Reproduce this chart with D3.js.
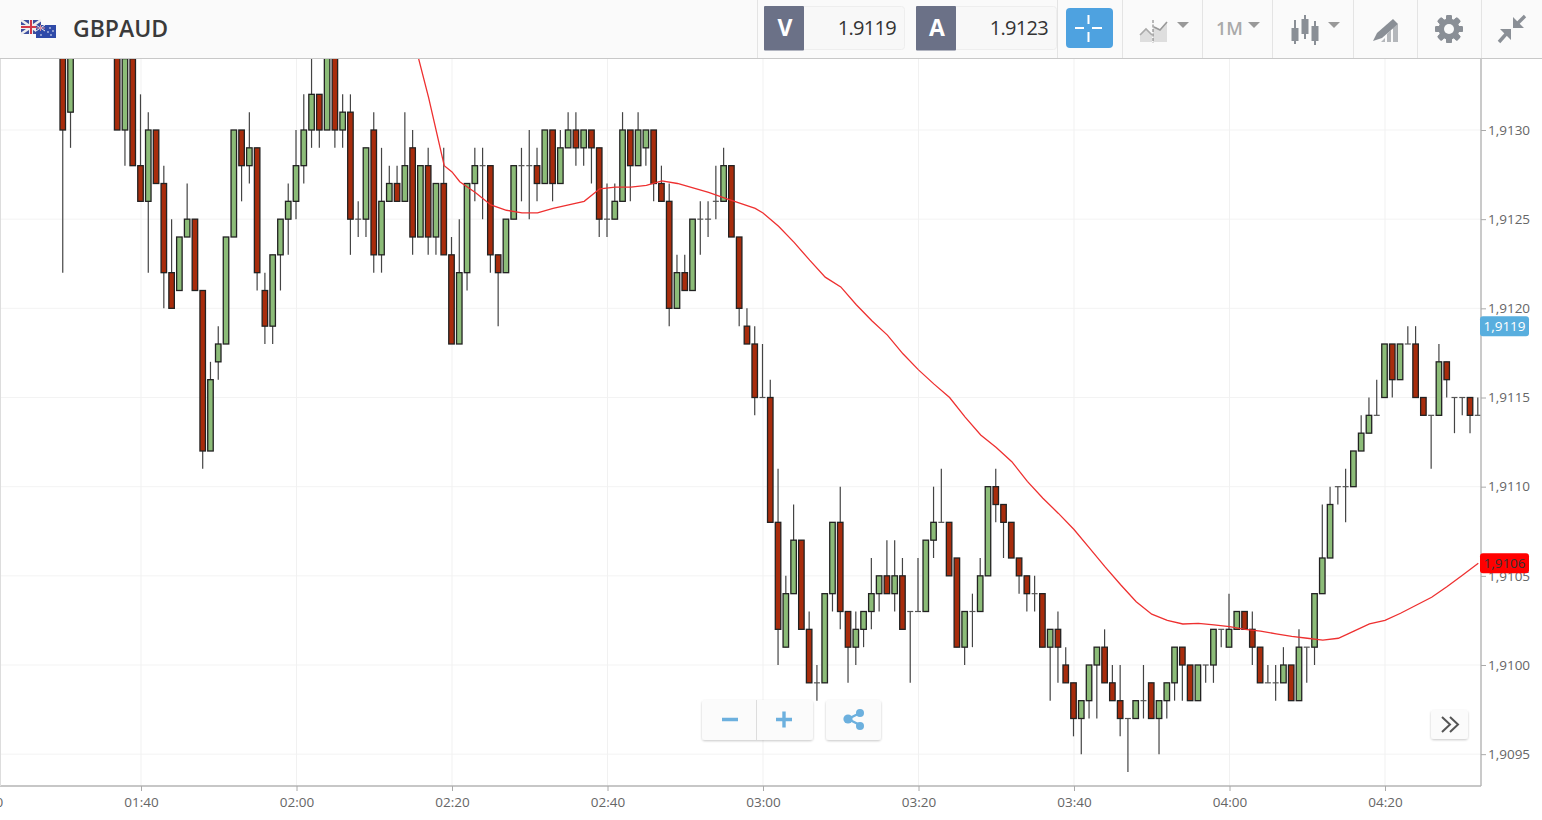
<!DOCTYPE html>
<html>
<head>
<meta charset="utf-8">
<title>GBPAUD</title>
<script src="https://cdn.jsdelivr.net/npm/d3@7"></script>
<style>
html, body { margin: 0; padding: 0; background: #fff; overflow: hidden; }
svg { display: block; font-family: "Open Sans", sans-serif; }
</style>
</head>
<body>
<div id="chart"></div>
<script>
// prices are in pips above 1.9100, one candle per minute starting at 01:30
const startHour = 1;
const startMinute = 30;

const opens = [
  36, 31, null, null, null, null, null, 35, 30, 34,
  28, 26, 30, 27, 22, 21, 24, 25, 21, 12,
  17, 18, 24, 30, 28, 29, 21, 19, 23, 25,
  26, 28, 30, 32, 30, 36, 30, 31, 25, 25,
  30, 23, 26, 27, 26, 29, 24, 28, 24, 27,
  23, 18, 22, 27, 28, 28, 23, 22, 25, 28,
  28, 28, 27, 30, 27, 29, 30, 29, 30, 29,
  25, 25, 26, 30, 28, 29, 30, 27, 26, 20,
  22, 21, 25, 25, 26, 26, 28, 24, 19, 18,
  15, 15, 8, 1, 4, 7, 2, -1, -1, 4,
  8, 3, 1, 2, 3, 4, 5, 4, 5, 3,
  3, 3, 7, 8, 8, 6, 1, 3, 3, 5,
  10, 9, 8, 6, 5, 4, 4, 1, 2, 0,
  -1, -3, -2, 0, 1, -1, -2, -3, -3, -2,
  -1, -3, -2, -1, 1, 0, -2, 0, 0, 2,
  1, 2, 3, 2, 1, -1, -1, -1, 0, -2,
  1, 1, 4, 6, 10, 10, 10, 12, 13, 14,
  15, 18, 16, 18, 18, 15, 14, 14, 17, 15,
  15, 15, 14
];
const highs = [
  37, 37, null, null, null, null, null, 36, 35, 35,
  32, 31, 30, 28, 25, 24, 27, 25, 21, 17,
  19, 24, 30, 30, 31, 29, 22, 23, 25, 27,
  30, 32, 35, 32, 36, 36, 32, 32, 26, 29,
  31, 29, 28, 28, 31, 30, 28, 29, 27, 29,
  24, 25, 27, 29, 29, 28, 23, 25, 28, 29,
  30, 29, 30, 30, 30, 31, 31, 30, 30, 29,
  27, 27, 31, 30, 31, 30, 30, 28, 27, 23,
  23, 25, 26, 26, 28, 29, 28, 24, 20, 19,
  18, 16, 11, 5, 9, 7, 3, 0, 4, 8,
  10, 3, 3, 3, 6, 5, 7, 7, 6, 3,
  6, 7, 10, 11, 8, 6, 3, 4, 6, 10,
  11, 9, 8, 6, 5, 5, 4, 2, 3, 1,
  -1, -2, 0, 1, 2, 0, 0, -3, -2, 0,
  -1, -2, -1, 1, 1, 0, 0, 0, 2, 2,
  4, 3, 3, 3, 1, 0, 0, 1, 0, 2,
  1, 4, 9, 10, 10, 11, 12, 14, 15, 16,
  18, 18, 18, 19, 19, 15, 14, 18, 17, 15,
  15, 15, 15
];
const lows = [
  22, 29, null, null, null, null, null, 30, 28, 28,
  26, 22, 27, 20, 20, 21, 24, 21, 11, 12,
  16, 18, 24, 26, 27, 21, 18, 18, 21, 23,
  25, 27, 29, 29, 30, 29, 29, 23, 24, 24,
  22, 22, 26, 26, 26, 23, 24, 23, 23, 23,
  18, 18, 21, 26, 25, 22, 19, 22, 25, 26,
  25, 26, 27, 26, 27, 29, 28, 28, 27, 24,
  24, 25, 26, 26, 28, 28, 26, 26, 19, 20,
  21, 21, 23, 24, 25, 26, 24, 19, 18, 14,
  15, 8, 0, 1, 4, 2, -1, -2, -1, 3,
  2, -1, 0, 1, 2, 3, 4, 3, 2, -1,
  3, 3, 6, 8, 5, 1, 0, 1, 3, 5,
  8, 6, 6, 4, 3, 3, 1, -2, -1, -1,
  -4, -5, -3, -3, -1, -2, -4, -6, -3, -3,
  -3, -5, -3, -2, -2, -2, -2, -1, -1, 1,
  1, 2, 2, 0, -1, -1, -2, -1, -2, -2,
  -1, 0, 4, 6, 9, 8, 10, 12, 13, 14,
  15, 15, 16, 18, 15, 14, 11, 14, 15, 13,
  14, 13, 14
];
const closes = [
  30, 36, null, null, null, null, null, 30, 34, 28,
  26, 30, 27, 22, 20, 24, 25, 21, 12, 16,
  18, 24, 30, 28, 29, 22, 19, 23, 25, 26,
  28, 30, 32, 30, 35, 30, 31, 25, 25, 29,
  23, 26, 27, 26, 28, 24, 28, 24, 27, 23,
  18, 22, 27, 28, 28, 23, 22, 25, 28, 28,
  28, 27, 30, 27, 29, 30, 29, 30, 29, 25,
  25, 26, 30, 28, 30, 30, 27, 26, 20, 22,
  21, 25, 25, 25, 26, 28, 24, 20, 18, 15,
  15, 8, 2, 4, 7, 2, -1, -1, 4, 8,
  3, 1, 2, 3, 4, 5, 4, 5, 2, 3,
  3, 7, 8, 8, 5, 1, 3, 3, 5, 10,
  9, 8, 6, 5, 4, 4, 1, 2, 1, -1,
  -3, -2, 0, 1, -1, -2, -3, -3, -2, -2,
  -3, -2, -1, 1, 0, -2, 0, 0, 2, 2,
  2, 3, 2, 1, -1, -1, -1, 0, -2, 1,
  1, 4, 6, 9, 10, 10, 12, 13, 14, 14,
  18, 16, 18, 18, 15, 14, 14, 17, 16, 15,
  15, 14, 14
];

// moving average: minute index and value in pips
const maMinutes = [
  45, 47, 49, 50, 51, 53, 55, 57, 59, 61, 63, 65, 67, 69, 71, 73, 75, 77, 79, 81,
  83, 85, 87, 89, 90, 92, 94, 96, 98, 100, 102, 104, 106, 108, 110, 112, 114, 116, 118, 120,
  122, 124, 126, 128, 130, 132, 134, 136, 138, 140, 142, 144, 146, 148, 150, 152, 154, 156, 158, 160,
  162, 164, 166, 168, 170, 172, 174, 176, 178, 180, 182
];
const maValues = [
  35.2, 31.8, 28, 27.65, 27.1, 26.5, 25.8, 25.5, 25.35, 25.35, 25.6, 25.8, 26, 26.7, 26.8, 26.8, 26.9, 27.15, 27, 26.75,
  26.5, 26.2, 25.9, 25.6, 25.35, 24.6, 23.7, 22.7, 21.75, 21.2, 20.2, 19.3, 18.5, 17.45, 16.55, 15.75, 15, 13.9, 12.9, 12.2,
  11.4, 10.3, 9.35, 8.5, 7.6, 6.55, 5.5, 4.5, 3.55, 2.85, 2.5, 2.3, 2.33, 2.25, 2.15, 2, 1.9, 1.75, 1.6, 1.5,
  1.4, 1.5, 1.9, 2.3, 2.5, 2.9, 3.35, 3.8, 4.4, 5.05, 5.7
];

const priceTicks = [-5, 0, 5, 10, 15, 20, 25, 30];
const priceLabels = ['1,9095', '1,9100', '1,9105', '1,9110', '1,9115', '1,9120', '1,9125', '1,9130'];
const timeTicks = ['01:20', '01:40', '02:00', '02:20', '02:40', '03:00', '03:20', '03:40', '04:00', '04:20'];

const symbol = 'GBPAUD';
const bidPrice = '1.9119';
const askPrice = '1.9123';
const lastTag = { pips: 19, label: '1,9119' };
const maTag = { pips: 5.7, label: '1,9106' };

const toDate = s => new Date(2020, 0, 1, +s.slice(0, 2), +s.slice(3));
const minuteDate = i => new Date(2020, 0, 1, startHour, startMinute + i);

const candles = opens.map((o, i) => ({ date: minuteDate(i), open: o, high: highs[i], low: lows[i], close: closes[i] }))
  .filter(d => d.open !== null);
const maLine = maMinutes.map((m, i) => ({ date: minuteDate(m), value: maValues[i] }));

const width = 1542, height = 820;
const plotRight = 1481, plotTop = 59, plotBottom = 786;

const x = d3.scaleTime().domain([toDate('01:40'), toDate('04:20')]).range([141, 1385]);
const y = d3.scaleLinear().domain([0, 30]).range([665, 130]);

const svg = d3.select('#chart').append('svg')
  .attr('width', width)
  .attr('height', height);

svg.append('defs').append('clipPath').attr('id', 'plot')
  .append('rect')
  .attr('x', 0)
  .attr('y', plotTop)
  .attr('width', plotRight)
  .attr('height', plotBottom - plotTop);

const shadow = svg.select('defs').append('filter').attr('id', 'soft')
  .attr('x', '-10%').attr('y', '-10%').attr('width', '120%').attr('height', '130%');
shadow.append('feDropShadow')
  .attr('dx', 0).attr('dy', 1).attr('stdDeviation', 1)
  .attr('flood-color', '#000').attr('flood-opacity', 0.22);

// grid
const grid = svg.append('g');
grid.selectAll('line.h').data(priceTicks).join('line')
  .attr('class', 'h')
  .attr('x1', 0).attr('x2', plotRight)
  .attr('y1', d => y(d)).attr('y2', d => y(d))
  .attr('stroke', '#f3f3f3');
grid.selectAll('line.v').data(timeTicks.slice(1)).join('line')
  .attr('class', 'v')
  .attr('x1', d => x(toDate(d))).attr('x2', d => x(toDate(d)))
  .attr('y1', plotTop).attr('y2', plotBottom)
  .attr('stroke', '#f1f1f1');

// candles
const plot = svg.append('g').attr('clip-path', 'url(#plot)');
const candle = plot.selectAll('g.candle').data(candles).join('g')
  .attr('class', 'candle')
  .attr('transform', d => `translate(${x(d.date) - 0.5},0)`);
candle.append('line')
  .attr('y1', d => y(d.high))
  .attr('y2', d => y(d.low))
  .attr('stroke', '#444')
  .attr('stroke-width', 1.2);
candle.filter(d => d.open === d.close).append('line')
  .attr('x1', -3).attr('x2', 3)
  .attr('y1', d => y(d.open)).attr('y2', d => y(d.open))
  .attr('stroke', '#555')
  .attr('stroke-width', 1.2);
candle.filter(d => d.open !== d.close).append('rect')
  .attr('x', -2.75)
  .attr('width', 5.5)
  .attr('y', d => y(Math.max(d.open, d.close)))
  .attr('height', d => Math.abs(y(d.open) - y(d.close)))
  .attr('fill', d => d.close > d.open ? '#8cbc78' : '#a82c0c')
  .attr('stroke', '#222')
  .attr('stroke-width', 1.3);

// moving average
plot.append('path')
  .datum(maLine)
  .attr('fill', 'none')
  .attr('stroke', '#ee3030')
  .attr('stroke-width', 1.3)
  .attr('d', d3.line().x(d => x(d.date)).y(d => y(d.value)));

// axes, the lines run along the whole plot and not only the scale range
const yAxis = svg.append('g')
  .attr('transform', `translate(${plotRight},0)`)
  .call(d3.axisRight(y).tickValues(priceTicks).tickSize(5).tickPadding(2)
    .tickFormat((d, i) => priceLabels[i]));
yAxis.select('.domain').attr('d', `M0,${plotTop}V${plotBottom}`);
const xAxis = svg.append('g')
  .attr('transform', `translate(0,${plotBottom})`)
  .call(d3.axisBottom(x).tickValues(timeTicks.map(toDate)).tickSize(5).tickPadding(6)
    .tickFormat(d3.timeFormat('%H:%M')));
xAxis.select('.domain').attr('d', `M0,0H${plotRight}`);
[yAxis, xAxis].forEach(axis => {
  axis.select('.domain').attr('stroke', '#b4b4b4').attr('stroke-width', 1.4);
  axis.selectAll('.tick line').attr('stroke', '#aaa');
  axis.selectAll('text')
    .style('font-family', '"Open Sans", sans-serif')
    .style('font-size', '13.5px')
    .attr('fill', '#666');
});
svg.append('line')
  .attr('x1', 0.5).attr('x2', 0.5)
  .attr('y1', plotTop).attr('y2', plotBottom)
  .attr('stroke', '#ddd');

// price tags on the right axis
function priceTag(tag, fill, color) {
  const g = svg.append('g').attr('transform', `translate(1480,${y(tag.pips)})`);
  g.append('rect')
    .attr('x', 0).attr('y', -10)
    .attr('width', 49).attr('height', 20)
    .attr('rx', 3)
    .attr('fill', fill);
  g.append('text')
    .attr('x', 24.5).attr('y', 5)
    .attr('text-anchor', 'middle')
    .attr('fill', color)
    .style('font-size', '13.5px')
    .text(tag.label);
}
priceTag(lastTag, '#58aede', '#fff');
priceTag(maTag, '#ff0000', '#333');

drawHeader();
drawControls();

function drawHeader() {
  const head = svg.append('g');
  head.append('rect')
    .attr('x', 0).attr('y', 0)
    .attr('width', width).attr('height', 58)
    .attr('fill', '#fafafa');
  head.append('line')
    .attr('x1', 0).attr('x2', width)
    .attr('y1', 58.5).attr('y2', 58.5)
    .attr('stroke', '#c8c8c8');
  head.selectAll('line.div').data([757, 1057, 1122, 1202, 1272, 1353, 1417, 1481]).join('line')
    .attr('class', 'div')
    .attr('x1', d => d + 0.5).attr('x2', d => d + 0.5)
    .attr('y1', 0).attr('y2', 58)
    .attr('stroke', '#e4e4e4');

  // flags
  const uk = head.append('g').attr('transform', 'translate(21,20)');
  uk.append('rect').attr('width', 20).attr('height', 14).attr('fill', '#3d4f9f');
  uk.append('path').attr('d', 'M0,0L20,14M20,0L0,14').attr('stroke', '#eee').attr('stroke-width', 2.6);
  uk.append('path').attr('d', 'M10,0V14M0,7H20').attr('stroke', '#eee').attr('stroke-width', 4);
  uk.append('path').attr('d', 'M10,0V14M0,7H20').attr('stroke', '#d23a4a').attr('stroke-width', 2);
  const au = head.append('g').attr('transform', 'translate(36,25)');
  au.append('rect').attr('width', 20).attr('height', 13).attr('fill', '#2f4aa8');
  au.append('path').attr('d', 'M0,0L9,6M9,0L0,6').attr('stroke', '#eee').attr('stroke-width', 1);
  au.append('path').attr('d', 'M4.5,0V6M0,3H9').attr('stroke', '#d98a9a').attr('stroke-width', 1);
  au.selectAll('circle').data([[14, 3], [17, 6], [12, 7], [15, 10], [5, 10]]).join('circle')
    .attr('cx', d => d[0]).attr('cy', d => d[1])
    .attr('r', 0.8)
    .attr('fill', '#fff');

  head.append('text')
    .attr('x', 73).attr('y', 37)
    .attr('fill', '#3a3a3a')
    .style('font-size', '23px')
    .style('font-weight', 600)
    .text(symbol);

  // bid and ask boxes
  [[764, 905, 'V', bidPrice], [916, 1057, 'A', askPrice]].forEach(b => {
    head.append('rect')
      .attr('x', b[0] + 0.5).attr('y', 6.5)
      .attr('width', b[1] - b[0] - 1).attr('height', 43)
      .attr('rx', 3)
      .attr('fill', '#f8f8f8')
      .attr('stroke', '#eeeeee');
    head.append('rect')
      .attr('x', b[0]).attr('y', 6)
      .attr('width', 40).attr('height', 44.5)
      .attr('rx', 1)
      .attr('fill', '#6b7187');
    head.append('text')
      .attr('x', b[0] + 21).attr('y', 36)
      .attr('text-anchor', 'middle')
      .attr('fill', '#fff')
      .style('font-size', '23px')
      .style('font-weight', 700)
      .text(b[2]);
    head.append('text')
      .attr('x', b[1] - 9).attr('y', 35)
      .attr('text-anchor', 'end')
      .attr('fill', '#333')
      .style('font-size', '20px')
      .style('letter-spacing', '-0.7px')
      .text(b[3]);
  });

  // crosshair button
  head.append('rect')
    .attr('x', 1066).attr('y', 8)
    .attr('width', 47).attr('height', 40)
    .attr('rx', 4)
    .attr('fill', '#4ea2e0');
  head.append('path')
    .attr('d', 'M1075,28H1084M1092,28H1102M1088.5,15V24M1088.5,32V42')
    .attr('stroke', '#fff')
    .attr('stroke-width', 2);

  // dropdown carets
  head.selectAll('path.caret').data([1183, 1254, 1334]).join('path')
    .attr('class', 'caret')
    .attr('d', d => `M${d - 6},22H${d + 6}L${d},28Z`)
    .attr('fill', '#999');

  // chart type icon
  const area = head.append('g').attr('fill', '#dedede');
  area.append('path').attr('d', 'M1140,42V35L1146,29L1152,35V42Z');
  area.append('path').attr('d', 'M1153,42V26L1160,29L1167,22V42Z');
  head.append('path').attr('d', 'M1140,35L1146,29L1152,35').attr('fill', 'none').attr('stroke', '#aaa').attr('stroke-width', 1.6);
  head.append('path').attr('d', 'M1154,27L1160,30L1167,22').attr('fill', 'none').attr('stroke', '#999').attr('stroke-width', 1.6);
  head.append('line').attr('x1', 1153).attr('x2', 1153).attr('y1', 20).attr('y2', 43)
    .attr('stroke', '#777').attr('stroke-dasharray', '3,1.5');

  head.append('text')
    .attr('x', 1216).attr('y', 35)
    .attr('fill', '#aaa')
    .style('font-size', '18px')
    .style('font-weight', 600)
    .text('1M');

  // candlestick icon
  [[1295, 20, 44, 28, 41], [1305, 15, 39, 19, 34], [1315, 21, 45, 26, 41]].forEach(c => {
    head.append('line').attr('x1', c[0]).attr('x2', c[0]).attr('y1', c[1]).attr('y2', c[2])
      .attr('stroke', '#8a8f96').attr('stroke-width', 2);
    head.append('rect').attr('x', c[0] - 3.5).attr('y', c[3]).attr('width', 7).attr('height', c[4] - c[3])
      .attr('fill', '#8a8f96');
  });

  // drawing tool icon, pencil over small bars
  head.append('path').attr('d', 'M1381,42L1385,38V42ZM1387,42V34L1391,30V42ZM1393,42V28L1398,24V42Z').attr('fill', '#b4b7bb');
  head.append('path').attr('d', 'M1373,41L1377,33L1393,19L1398,24L1382,38Z').attr('fill', '#8a8f96');

  // gear
  const gear = head.append('g').attr('transform', 'translate(1449,29)');
  gear.selectAll('rect').data(d3.range(8)).join('rect')
    .attr('x', -3).attr('y', -14)
    .attr('width', 6).attr('height', 28)
    .attr('rx', 1.5)
    .attr('fill', '#8a8f96')
    .attr('transform', d => `rotate(${d * 45})`);
  gear.append('circle').attr('r', 10.5).attr('fill', '#8a8f96');
  gear.append('circle').attr('r', 5).attr('fill', '#fafafa');

  // collapse arrows
  head.append('path')
    .attr('d', 'M1513,28V17L1524,28Z M1511,29V40L1500,29Z')
    .attr('fill', '#8a8f96');
  head.append('path')
    .attr('d', 'M1517,24L1525,16M1507,33L1499,42')
    .attr('stroke', '#8a8f96')
    .attr('stroke-width', 3.4);
}

function drawControls() {
  const ui = svg.append('g');
  const box = (bx, by, w, h) => ui.append('rect')
    .attr('x', bx).attr('y', by)
    .attr('width', w).attr('height', h)
    .attr('rx', 3)
    .attr('fill', '#fbfbfb')
    .attr('filter', 'url(#soft)');
  box(702, 700, 111, 40);
  box(826, 700, 55, 40);
  box(1431, 710, 37, 29);
  ui.append('line').attr('x1', 756.5).attr('x2', 756.5).attr('y1', 700).attr('y2', 740).attr('stroke', '#ddd');
  ui.append('path')
    .attr('d', 'M722,719.5H738M776,719.5H792M784,711.5V727.5')
    .attr('stroke', '#6cb0de')
    .attr('stroke-width', 3.4);
  ui.append('path')
    .attr('d', 'M860,713L848,719L860,725')
    .attr('fill', 'none')
    .attr('stroke', '#6cb0de')
    .attr('stroke-width', 2.4);
  ui.selectAll('circle').data([[860, 713, 4], [848, 719, 4.6], [860, 726, 4]]).join('circle')
    .attr('cx', d => d[0]).attr('cy', d => d[1])
    .attr('r', d => d[2])
    .attr('fill', '#6cb0de');
  ui.append('path')
    .attr('d', 'M1442,717L1450,724.5L1442,732M1450,717L1458,724.5L1450,732')
    .attr('fill', 'none')
    .attr('stroke', '#555')
    .attr('stroke-width', 2);
}
</script>
</body>
</html>
